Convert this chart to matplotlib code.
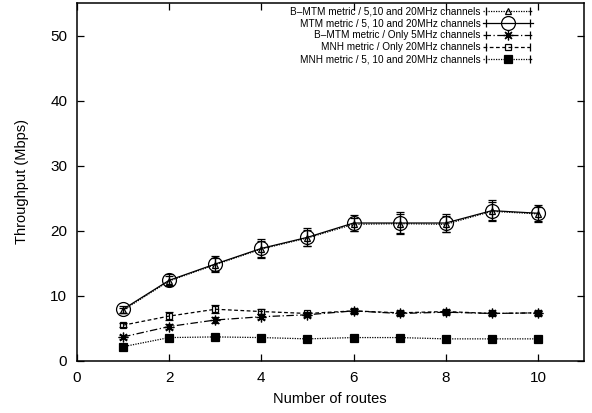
import numpy as np
import matplotlib
matplotlib.use('Agg')
import matplotlib.pyplot as plt
from matplotlib.lines import Line2D
from matplotlib.legend_handler import HandlerLine2D, HandlerTuple

plt.rcParams['font.family'] = ['Liberation Sans', 'DejaVu Sans']

# data
routes = [1, 2, 3, 4, 5, 6, 7, 8, 9, 10]

bmtm_all = [7.8, 12.3, 14.8, 17.2, 18.9, 21.0, 21.1, 21.0, 23.0, 22.6]
bmtm_all_err = [0.4, 0.7, 1.0, 1.2, 1.2, 1.0, 1.5, 1.2, 1.4, 1.1]

mtm_all = [7.95, 12.4, 14.9, 17.3, 19.0, 21.2, 21.2, 21.2, 23.1, 22.7]
mtm_all_err = [0.5, 0.9, 1.2, 1.4, 1.4, 1.2, 1.7, 1.4, 1.6, 1.3]

bmtm_5 = [3.7, 5.3, 6.3, 6.8, 7.1, 7.7, 7.3, 7.5, 7.3, 7.4]
bmtm_5_err = [0.3, 0.4, 0.5, 0.4, 0.3, 0.3, 0.3, 0.3, 0.3, 0.3]

mnh_20 = [5.5, 6.9, 7.95, 7.6, 7.3, 7.7, 7.4, 7.6, 7.3, 7.4]
mnh_20_err = [0.3, 0.6, 0.6, 0.4, 0.3, 0.3, 0.3, 0.3, 0.3, 0.3]

mnh_all = [2.2, 3.6, 3.7, 3.6, 3.4, 3.6, 3.6, 3.4, 3.4, 3.4]
mnh_all_err = [0.1, 0.1, 0.1, 0.1, 0.1, 0.1, 0.1, 0.1, 0.1, 0.1]

labels = [
    'B\u2013MTM metric / 5,10 and 20MHz channels',
    'MTM metric / 5, 10 and 20MHz channels',
    'B\u2013MTM metric / Only 5MHz channels',
    'MNH metric / Only 20MHz channels',
    'MNH metric / 5, 10 and 20MHz channels',
]

fig = plt.figure(figsize=(5.92, 4.13), dpi=100)
ax = fig.add_axes([77 / 592, 52 / 413, 507 / 592, 358 / 413])

series = [
    (mtm_all, mtm_all_err, '-', dict(marker='o', ms=10, mfc='none')),
    (bmtm_all, bmtm_all_err, (0, (1, 1)), dict(marker='^', ms=5, mfc='none')),
    (bmtm_5, bmtm_5_err, (0, (6, 2, 1, 2)), dict(marker=(8, 2, 0), ms=7)),
    (mnh_20, mnh_20_err, (0, (3, 2)), dict(marker='s', ms=5, mfc='none')),
    (mnh_all, mnh_all_err, (0, (1, 1)), dict(marker='s', ms=6, mfc='black')),
]
for vals, errs, ls, mk in series:
    ax.errorbar(routes, vals, yerr=errs, color='black', ls=ls, lw=0.9,
                mec='black', mew=0.9, elinewidth=0.9, capsize=3, capthick=0.9,
                **mk)

ax.set_xlim(0, 11)
ax.set_ylim(0, 55)
ax.set_xticks([0, 2, 4, 6, 8, 10])
ax.set_yticks([0, 10, 20, 30, 40, 50])
ax.tick_params(direction='in', length=5, width=0.9, labelsize=11, pad=7,
               top=True, right=True)
for sp in ax.spines.values():
    sp.set_linewidth(1.1)

fig.text(330 / 592, 1 - 399 / 413, 'Number of routes', ha='center',
         va='center', fontsize=10.5)
fig.text(22 / 592, 1 - 182 / 413, 'Throughput (Mbps)', ha='center',
         va='center', rotation=90, fontsize=10.5)

# legend in gnuplot style: text first, sample with end ticks on the right
legend_styles = [
    ((0, (1, 1)), dict(marker='^', markersize=5, markerfacecolor='none')),
    ('-', dict(marker='o', markersize=10, markerfacecolor='none')),
    ((0, (6, 2, 1, 2)), dict(marker=(8, 2, 0), markersize=7)),
    ((0, (3, 2)), dict(marker='s', markersize=5, markerfacecolor='none')),
    ((0, (1, 1)), dict(marker='s', markersize=6, markerfacecolor='black')),
]
handles = []
hmap = {}
for ls, mk in legend_styles:
    line = Line2D([], [], color='black', ls=ls, lw=0.9, mec='black', mew=0.9,
                  **mk)
    ends = Line2D([], [], color='none', ls='none', marker='|', ms=6,
                  mec='black', mew=0.9)
    hmap[line] = HandlerLine2D(numpoints=1)
    hmap[ends] = HandlerLine2D(numpoints=2)
    handles.append((line, ends))
hmap[tuple] = HandlerTuple(ndivide=1, pad=0)

leg = ax.legend(handles, labels, handler_map=hmap, loc='upper right',
                bbox_to_anchor=(533 / 592, 1 - 6 / 413),
                bbox_transform=fig.transFigure, frameon=False,
                markerfirst=False, fontsize=7.2, handlelength=5.0,
                handletextpad=0.25, labelspacing=0.2, borderpad=0,
                borderaxespad=0)

fig.savefig('out.png', dpi=100)
